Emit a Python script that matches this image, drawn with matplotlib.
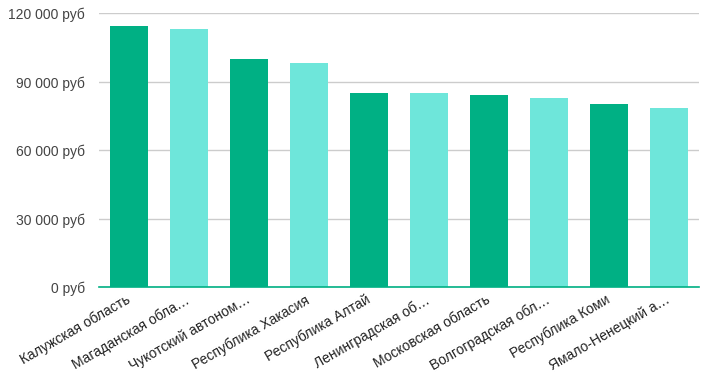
import matplotlib.pyplot as plt
from matplotlib.ticker import FuncFormatter, MultipleLocator

# Data
regions = [
    "Калужская область",
    "Магаданская обла…",
    "Чукотский автоном…",
    "Республика Хакасия",
    "Республика Алтай",
    "Ленинградская об…",
    "Московская область",
    "Волгоградская обл…",
    "Республика Коми",
    "Ямало-Ненецкий а…",
]
salaries = [114300, 113300, 99900, 98100, 84900, 84900, 84200, 82800, 80200, 78400]

dark_green = "#00b084"
light_teal = "#6ee6da"
bar_colors = [dark_green if i % 2 == 0 else light_teal for i in range(len(regions))]

plt.rcParams['font.family'] = ['Liberation Sans', 'DejaVu Sans']

fig = plt.figure(figsize=(7.08, 3.73), dpi=100)
ax = fig.add_axes([0.1398, 0.2298, 0.8472, 0.7345])

x = range(len(regions))
ax.bar(x, salaries, width=0.63, color=bar_colors, zorder=3)

ax.set_xlim(-0.5, len(regions) - 0.5)
ax.set_ylim(0, 120000)
ax.yaxis.set_major_locator(MultipleLocator(30000))
ax.yaxis.set_major_formatter(
    FuncFormatter(lambda v, pos: f"{int(v):,} руб".replace(",", " "))
)
ax.grid(axis='y', color='#cccccc', linewidth=1, zorder=0)

for side in ['top', 'right', 'left']:
    ax.spines[side].set_visible(False)
ax.spines['bottom'].set_color(dark_green)
ax.spines['bottom'].set_linewidth(1.2)
ax.spines['bottom'].set_zorder(4)

ax.tick_params(axis='y', length=0, labelsize=10, labelcolor='#444444', pad=10)
ax.tick_params(axis='x', length=0, labelsize=10, labelcolor='#222222', pad=3)
ax.set_xticks(list(x))
ax.set_xticklabels(regions, rotation=30, ha='right', va='center',
                   rotation_mode='anchor')
for lbl in ax.get_xticklabels():
    lbl.set_y(-0.027)

fig.savefig("out.png", dpi=100)
